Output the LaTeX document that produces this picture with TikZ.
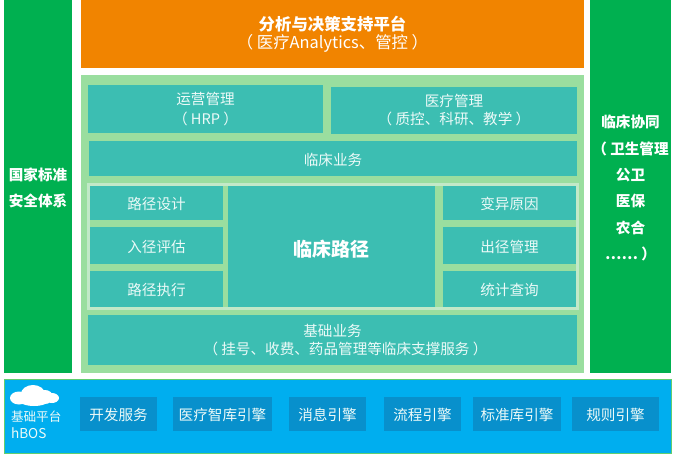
\documentclass[tikz,border=0pt]{standalone}
\usepackage{fontspec}
\setmainfont{Noto Sans CJK SC}
\usepackage{tikz}
\usetikzlibrary{positioning,fit}
\definecolor{sidegreen}{RGB}{0,176,80}
\definecolor{toporange}{RGB}{241,132,0}
\definecolor{panelgreen}{RGB}{154,222,159}
\definecolor{frameline}{RGB}{194,233,200}
\definecolor{cellteal}{RGB}{60,190,178}
\definecolor{baseblue}{RGB}{0,174,239}
\definecolor{baseline}{RGB}{96,206,112}
\definecolor{engineblue}{RGB}{8,144,204}
\definecolor{lighttext}{RGB}{236,250,248}
\newcommand{\sidedrop}{\rule{0pt}{16pt}}

\begin{document}
\begin{tikzpicture}[
  x=1pt, y=-1pt,
  drop/.style={execute at begin node={\rule{0pt}{#1}}},
  block/.style={inner sep=0pt, outer sep=0pt, align=center, text=lighttext,
                font=\fontsize{14.6}{18}\selectfont, drop=14.5pt},
  side/.style={block, fill=sidegreen, minimum width=#1, minimum height=373pt, text=white,
               font=\fontsize{14.6}{26.3}\selectfont\bfseries},
  cell/.style={block, fill=cellteal},
  lane/.style={cell, minimum width=133pt},
  engine/.style={block, fill=engineblue, minimum height=34pt, minimum width=#1},
  engine/.default=77pt
]
  \useasboundingbox (0,0) rectangle (676,454);

  \node[side=68pt, anchor=north west] (national) at (4,0) {\sidedrop 国家标准\\安全体系};
  \node[side=81pt, anchor=north west] (synergy) at (590,0)
       {\sidedrop 临床协同\\（ 卫生管理\\公卫\\医保\\农合\\……  ）};

  \node[block, fill=toporange, anchor=north west, minimum width=503pt, minimum height=68pt,
        text=white] (analytics) at (81,0)
       {\fontsize{16.4}{18}\selectfont\bfseries 分析与决策支持平台\\\fontsize{16.4}{18}\selectfont（ 医疗Analytics、管控 ）};
  \node[block, fill=panelgreen, anchor=north west, minimum width=503pt, minimum height=298pt]
       (panel) at (81,75) {};

  \node[cell, anchor=north west, minimum width=235pt, minimum height=48pt,
        font=\fontsize{14.6}{20}\selectfont] (operation) at (88,85) {运营管理\\（ HRP ）};
  \node[cell, anchor=north west, minimum width=246pt, minimum height=47pt] (medical) at (331,87)
       {医疗管理\\（ 质控、科研、教学 ）};
  \node[cell, anchor=north west, minimum width=488pt, minimum height=35pt] (clinical) at (89,141)
       {临床业务};

  \node[lane, anchor=north west, minimum height=34pt] (design) at (90,186) {路径设计};
  \node[lane, minimum height=37pt, below=7pt of design] (assess) {入径评估};
  \node[lane, minimum height=36pt, below=7pt of assess] (execute) {路径执行};
  \node[cell, anchor=north west, minimum width=207pt, minimum height=121pt, drop=21pt,
        text=white, font=\fontsize{19}{22}\selectfont\bfseries] (pathway) at (228,186) {临床路径};
  \node[lane, anchor=north west, minimum height=34pt] (variation) at (443,186) {变异原因};
  \node[lane, minimum height=37pt, below=7pt of variation] (discharge) {出径管理};
  \node[lane, minimum height=36pt, below=7pt of discharge] (statistics) {统计查询};
  \node[draw=frameline, line width=2.4pt, inner sep=1.6pt,
        fit=(design)(execute)(statistics)] (pathframe) {};

  \node[cell, anchor=north west, minimum width=489pt, minimum height=50pt] (basic) at (88,315)
       {基础业务\\\hspace*{26pt}（ 挂号、收费、药品管理等临床支撑服务 ）};

  \node[block, fill=baseblue, draw=baseline, line width=1pt, anchor=north west,
        minimum width=667pt, minimum height=74pt] (platform) at (4,379) {};
  % cloud
  \fill[white] (19,398) circle[x radius=9, y radius=6.5]
               (33,394) circle[x radius=12, y radius=9]
               (45,397) circle[x radius=8, y radius=7]
               (52,398) circle[x radius=7, y radius=5]
               (34,400) circle[x radius=15, y radius=6];
  \node[block, anchor=north west, align=left, font=\fontsize{12.6}{17.5}\selectfont, drop=0pt] (hbos) at (11,410.5)
       {基础平台\\{\fontsize{13.6}{17.5}\selectfont hBOS}};

  \node[engine, anchor=north west] (develop) at (80,397) {开发服务};
  \node[engine=99pt, right=16pt of develop] (knowledge) {医疗智库引擎};
  \node[engine, right=17pt of knowledge] (message) {消息引擎};
  \node[engine, right=18pt of message] (process) {流程引擎};
  \node[engine=88pt, right=12pt of process] (standard) {标准库引擎};
  \node[engine=87pt, right=11pt of standard] (rule) {规则引擎};
\end{tikzpicture}
\end{document}
